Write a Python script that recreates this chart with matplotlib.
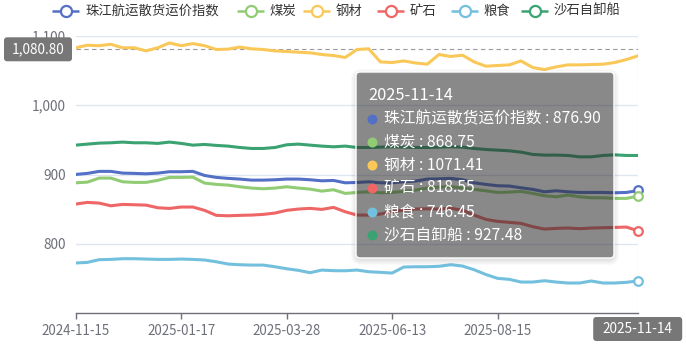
import matplotlib
matplotlib.use("Agg")
import matplotlib.pyplot as plt
import numpy as np
import pandas as pd
from matplotlib.patches import FancyBboxPatch

plt.rcParams["font.family"] = ["Noto Sans CJK SC", "DejaVu Sans"]

W, H = 686, 347

# ---- data -------------------------------------------------------------
# weekly index, holiday weeks are not published
all_weeks = pd.date_range("2024-11-15", "2025-11-14", freq="7D")
holiday_weeks = pd.to_datetime(["2025-01-31", "2025-04-04", "2025-05-02", "2025-10-03"])
dates = [d.strftime("%Y-%m-%d") for d in all_weeks if d not in holiday_weeks]
tick_idx = [0, 9, 18, 27, 36]

series_names = ["珠江航运散货运价指数", "煤炭", "钢材", "矿石", "粮食", "沙石自卸船"]
colors = ["#5470c6", "#91cc75", "#fac858", "#ee6666", "#73c0de", "#3ba272"]

index_vals = [900.1, 901.6, 904.5, 904.5, 902.0, 901.6, 901.0, 902.0, 904.0, 904.0,
              904.5, 898.6, 895.8, 894.4, 893.4, 891.9, 891.9, 892.4, 893.4, 893.4,
              892.4, 890.9, 891.4, 888.0, 888.5, 889.5, 888.0, 888.0, 889.5, 890.5,
              893.4, 893.8, 894.4, 892.4, 888.0, 885.7, 883.8, 883.3, 880.8, 878.5,
              875.0, 876.5, 875.0, 874.1, 874.1, 874.1, 873.6, 874.1, 876.90]
coal_vals = [888.0, 889.0, 894.8, 894.8, 889.5, 888.6, 888.6, 891.5, 895.8, 895.8,
             896.2, 887.6, 885.7, 884.7, 882.3, 880.4, 879.4, 880.4, 882.3, 880.4,
             878.9, 876.0, 878.0, 872.7, 874.1, 875.0, 873.6, 874.1, 875.6, 877.5,
             880.4, 881.8, 882.3, 880.4, 878.5, 876.5, 874.1, 874.6, 875.6, 872.7,
             869.3, 867.8, 870.3, 867.8, 866.4, 866.4, 865.5, 865.5, 868.75]
steel_vals = [1083.0, 1086.7, 1086.0, 1088.0, 1083.0, 1083.0, 1078.5, 1083.0, 1090.0, 1086.0,
              1089.0, 1086.0, 1080.5, 1081.0, 1084.0, 1081.5, 1080.5, 1078.5, 1077.6, 1076.6,
              1075.7, 1073.3, 1071.8, 1069.0, 1080.5, 1081.5, 1062.6, 1061.7, 1064.0, 1061.0,
              1059.3, 1073.3, 1070.4, 1072.3, 1062.6, 1056.4, 1057.4, 1058.3, 1064.0, 1054.5,
              1051.6, 1055.4, 1058.3, 1058.3, 1058.8, 1059.3, 1061.7, 1066.0, 1071.41]
ore_vals = [857.3, 859.7, 858.7, 854.8, 856.8, 856.3, 855.8, 852.0, 851.0, 853.0,
            853.0, 848.2, 841.0, 840.4, 841.0, 841.4, 842.4, 844.3, 848.2, 850.1,
            851.1, 849.6, 852.5, 846.2, 841.4, 841.4, 842.9, 846.2, 848.6, 850.1,
            850.5, 850.1, 851.1, 848.6, 841.4, 835.2, 832.3, 830.9, 829.4, 824.6,
            821.2, 822.2, 822.7, 821.7, 822.7, 823.1, 823.6, 824.1, 818.55]
grain_vals = [772.2, 773.1, 777.0, 777.4, 778.4, 778.4, 777.9, 777.4, 777.4, 777.9,
              777.4, 776.5, 774.0, 770.7, 769.7, 769.2, 769.2, 766.8, 763.9, 761.6,
              758.2, 762.0, 761.1, 761.0, 762.0, 759.6, 758.7, 757.7, 766.4, 766.8,
              766.8, 767.4, 769.7, 767.8, 762.5, 755.6, 750.0, 748.6, 744.7, 744.7,
              746.6, 744.7, 743.3, 743.3, 746.2, 743.3, 743.3, 744.3, 746.45]
sand_vals = [942.4, 943.9, 945.3, 945.8, 946.8, 945.8, 945.8, 944.9, 946.8, 944.9,
             942.4, 943.4, 942.0, 941.0, 939.0, 937.6, 937.6, 939.0, 942.9, 943.9,
             942.4, 941.0, 940.0, 941.0, 939.0, 939.0, 939.5, 940.0, 939.5, 939.0,
             939.0, 939.5, 940.0, 939.5, 937.6, 936.1, 935.2, 934.2, 932.3, 929.0,
             928.0, 928.0, 927.5, 925.5, 925.5, 927.5, 928.4, 927.5, 927.48]

series_vals = [index_vals, coal_vals, steel_vals, ore_vals, grain_vals, sand_vals]
marked = [True, True, False, True, True, False]   # hover symbols shown at the last point

pointer_y = 1080.80
y_ticks = [800, 900, 1000, 1100]

AXIS_GRAY = "#6e7079"

# ---- figure -----------------------------------------------------------
fig = plt.figure(figsize=(W / 100, H / 100), dpi=100)
left, right, top, bottom = 75.7, 638.2, 36, 313
ax = fig.add_axes([left / W, (H - bottom) / H, (right - left) / W, (bottom - top) / H])

x = np.arange(len(dates))
for name, vals, c in zip(series_names, series_vals, colors):
    ax.plot(x, vals, color=c, lw=2.2, solid_joinstyle="round", zorder=3)

ax.set_xlim(0, len(dates) - 1)
ax.set_ylim(700, 1100)
ax.set_yticks(y_ticks)
ax.set_yticklabels([f"{v:,.0f}" for v in y_ticks])
ax.grid(axis="y", color="#e0e6f1", lw=1)
ax.set_axisbelow(True)
ax.set_xticks(tick_idx)
ax.set_xticklabels([dates[i] for i in tick_idx])

for s in ["left", "right", "top"]:
    ax.spines[s].set_visible(False)
ax.spines["bottom"].set_color(AXIS_GRAY)
ax.spines["bottom"].set_linewidth(1)
ax.tick_params(axis="y", length=0, pad=7, labelsize=9.8, labelcolor=AXIS_GRAY)
ax.tick_params(axis="x", length=4, width=1, color=AXIS_GRAY, pad=4,
               labelsize=9.6, labelcolor=AXIS_GRAY)

# cross axis pointer
ax.axhline(pointer_y, color="#9a9a9a", lw=0.8, ls=(0, (4, 3)), zorder=2)
ax.axvline(x[-1], color="#b6bbd6", lw=0.8, ls=(0, (4, 3)), zorder=2)
for vals, c, m in zip(series_vals, colors, marked):
    if m:
        ax.plot(x[-1], vals[-1], "o", ms=6.2, mfc="white", mec=c, mew=1.6,
                zorder=6, clip_on=False)

# ---- overlay in pixel coordinates ------------------------------------
ov = fig.add_axes([0, 0, 1, 1], zorder=5)
ov.set_xlim(0, W)
ov.set_ylim(H, 0)
ov.axis("off")
ov.patch.set_alpha(0)

fig.canvas.draw()
px_end, py_ptr = ax.transData.transform((x[-1], pointer_y))
py_ptr = H - py_ptr

# legend
legend_x = [52, 237, 303, 377, 451, 521]
for lx, name, c in zip(legend_x, series_names, colors):
    ov.plot([lx, lx + 27], [11, 11], color=c, lw=1.8, solid_capstyle="butt")
    ov.plot(lx + 13.5, 11, "o", ms=8, mfc="white", mec=c, mew=1.6)
    ov.text(lx + 33, 11, name, color="#333333", fontsize=9.6, va="center", ha="left")

# axis pointer labels
ov.add_patch(FancyBboxPatch((4, py_ptr - 12), 68, 24,
                            boxstyle="round,pad=0,rounding_size=3",
                            fc="#777777", ec="none", zorder=4))
ov.text(38, py_ptr, f"{pointer_y:,.2f}", color="white", fontsize=9.8,
        ha="center", va="center", zorder=5)
ov.add_patch(FancyBboxPatch((px_end - 45, 317), 89, 24,
                            boxstyle="round,pad=0,rounding_size=3",
                            fc="#777777", ec="none", zorder=4))
ov.text(px_end - 0.5, 329, dates[-1], color="white", fontsize=9.8,
        ha="center", va="center", zorder=5)

# tooltip with soft shadow
tx, ty, tw, th = 356, 72, 258, 186
for k in range(6, 0, -1):
    ov.add_patch(FancyBboxPatch((tx - k + 1, ty - k + 3), tw + 2 * k - 2, th + 2 * k - 2,
                                boxstyle=f"round,pad=0,rounding_size={4 + k}",
                                fc=(0, 0, 0, 0.018), ec="none", zorder=1))
ov.add_patch(FancyBboxPatch((tx, ty), tw, th,
                            boxstyle="round,pad=0,rounding_size=4",
                            fc=(0.2, 0.2, 0.2, 0.5), ec="white", lw=1, zorder=2))
ov.text(tx + 12, ty + 23, dates[-1], color="white", fontsize=11.8,
        ha="left", va="center", zorder=3)
for k, (name, vals, c) in enumerate(zip(series_names, series_vals, colors)):
    ry = ty + 46.5 + k * 23.3
    ov.plot(tx + 16, ry, "o", ms=7.2, mfc=c, mec="none", zorder=3)
    ov.text(tx + 28, ry, f"{name} : {vals[-1]:.2f}", color="white", fontsize=11.3,
            ha="left", va="center", zorder=3)

fig.savefig("out.png", dpi=100)
